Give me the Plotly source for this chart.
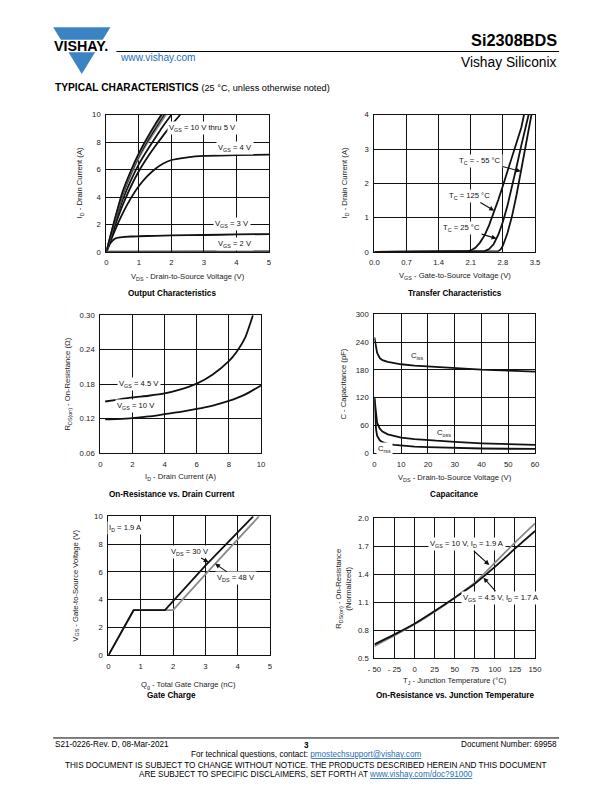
import plotly.graph_objects as go

W, H = 612, 792

# ---------------- data ----------------
# Output characteristics (VDS in V, ID in A)
out_x_10 = [0, 0.25, 0.5, 0.75, 1.0, 1.25, 1.5, 1.69]
out_y_10 = [0, 2.3, 4.4, 5.9, 7.2, 8.3, 9.3, 10.0]
out_x_9 = [0, 0.25, 0.5, 0.75, 1.0, 1.25, 1.5, 1.73]
out_y_9 = [0, 2.25, 4.3, 5.8, 7.1, 8.2, 9.15, 10.0]
out_x_8 = [0, 0.25, 0.5, 0.75, 1.0, 1.25, 1.5, 1.77]
out_y_8 = [0, 2.2, 4.2, 5.7, 7.0, 8.05, 9.0, 10.0]
out_x_7 = [0, 0.25, 0.5, 0.75, 1.0, 1.25, 1.5, 1.83]
out_y_7 = [0, 2.15, 4.1, 5.6, 6.85, 7.9, 8.8, 10.0]
out_x_6 = [0, 0.25, 0.5, 0.75, 1.0, 1.25, 1.5, 1.75, 2.0]
out_y_6 = [0, 2.0, 3.8, 5.2, 6.4, 7.4, 8.3, 9.2, 10.0]
out_x_5 = [0, 0.25, 0.5, 0.75, 1.0, 1.25, 1.5, 1.75, 2.0, 2.27]
out_y_5 = [0, 1.8, 3.4, 4.75, 5.9, 6.85, 7.7, 8.5, 9.25, 10.0]
out_x_4 = [0, 0.25, 0.5, 0.75, 1.0, 1.25, 1.5, 1.75, 2.0, 2.5, 3.0, 4.0, 5.0]
out_y_4 = [0, 1.5, 2.8, 3.9, 4.8, 5.5, 6.05, 6.45, 6.7, 6.9, 7.0, 7.05, 7.1]
out_x_3 = [0, 0.1, 0.2, 0.3, 0.5, 0.75, 1.0, 1.5, 2.0, 3.0, 4.0, 5.0]
out_y_3 = [0, 0.55, 0.85, 1.0, 1.08, 1.12, 1.14, 1.17, 1.2, 1.23, 1.27, 1.3]
out_x_2 = [0, 5.0]
out_y_2 = [0.02, 0.03]

# Transfer characteristics (VGS in V, ID in A)
tr_x_125 = [0, 1.9, 2.0, 2.1, 2.2, 2.3, 2.4, 2.5, 2.6, 2.7, 2.8, 2.9, 3.0, 3.1, 3.2, 3.26]
tr_y_125 = [0, 0, 0.01, 0.04, 0.12, 0.27, 0.48, 0.78, 1.13, 1.52, 1.93, 2.35, 2.77, 3.2, 3.62, 4.0]
tr_x_25 = [0, 2.3, 2.4, 2.5, 2.6, 2.7, 2.8, 2.9, 3.0, 3.1, 3.2, 3.3, 3.36]
tr_y_25 = [0, 0, 0.02, 0.08, 0.23, 0.5, 0.88, 1.35, 1.9, 2.5, 3.1, 3.7, 4.0]
tr_x_m55 = [0, 2.65, 2.7, 2.75, 2.8, 2.9, 3.0, 3.1, 3.2, 3.3, 3.4, 3.45]
tr_y_m55 = [0, 0, 0.02, 0.07, 0.18, 0.55, 1.05, 1.68, 2.4, 3.15, 3.85, 4.2]

# On-resistance vs drain current (ID in A, RDS(on) in ohm)
ron_x_45 = [0.3, 1, 2, 3, 4, 5, 6, 7, 8, 8.5, 9, 9.5]
ron_y_45 = [0.150, 0.153, 0.157, 0.160, 0.164, 0.171, 0.181, 0.197, 0.220, 0.237, 0.260, 0.300]
ron_x_10 = [0.3, 1, 2, 3, 4, 5, 6, 7, 8, 9, 10]
ron_y_10 = [0.119, 0.1195, 0.121, 0.124, 0.128, 0.132, 0.137, 0.143, 0.151, 0.162, 0.178]

# Capacitance (VDS in V, C in pF)
cap_v = [0, 0.3, 0.6, 1, 2, 3, 5, 7.5, 10, 15, 20, 30, 40, 50, 60]
cap_ciss = [250, 240, 228, 217, 205, 201, 197, 194, 192, 189, 187, 183, 180.5, 178.5, 176]
cap_coss = [120, 100, 82, 66, 53, 47, 41, 37, 34, 30.5, 28, 24.5, 21.5, 19.5, 18]
cap_crss = [118, 80, 52, 38, 28, 24, 20.5, 18, 16.3, 14.5, 13.2, 11.5, 10.3, 9.8, 9.4]

# Gate charge (Qg in nC, VGS in V)
qg_x_30 = [0, 0.78, 1.75, 1.85, 3.0, 4.48]
qg_y_30 = [0, 3.25, 3.25, 3.5, 6.45, 10.0]
qg_x_48 = [0, 0.78, 2.0, 2.1, 3.05, 4.66]
qg_y_48 = [0, 3.25, 3.25, 3.5, 5.95, 10.0]

# On-resistance vs junction temperature (TJ in degC, normalized)
tj_x = [-50, -25, 0, 25, 50, 75, 100, 125, 150]
tj_r_45 = [0.65, 0.757, 0.871, 1.007, 1.15, 1.30, 1.48, 1.675, 1.864]
tj_r_10 = [0.632, 0.745, 0.865, 1.0, 1.15, 1.31, 1.525, 1.74, 1.946]

# ticks
out_xticks = [0, 1, 2, 3, 4, 5]
out_yticks = [0, 2, 4, 6, 8, 10]
tr_xticks = [0, 0.7, 1.4, 2.1, 2.8, 3.5]
tr_xlabels = ["0.0", "0.7", "1.4", "2.1", "2.8", "3.5"]
tr_yticks = [0, 1, 2, 3, 4]
ron_xticks = [0, 2, 4, 6, 8, 10]
ron_yticks = [0.06, 0.12, 0.18, 0.24, 0.30]
ron_ylabels = ["0.06", "0.12", "0.18", "0.24", "0.30"]
cap_xticks = [0, 10, 20, 30, 40, 50, 60]
cap_yticks = [0, 60, 120, 180, 240, 300]
qg_xticks = [0, 1, 2, 3, 4, 5]
qg_yticks = [0, 2, 4, 6, 8, 10]
tj_xticks = [-50, -25, 0, 25, 50, 75, 100, 125, 150]
tj_xlabels = ["- 50", "- 25", "0", "25", "50", "75", "100", "125", "150"]
tj_yticks = [0.5, 0.8, 1.1, 1.4, 1.7, 2.0]
tj_ylabels = ["0.5", "0.8", "1.1", "1.4", "1.7", "2.0"]

# ---------------- helpers ----------------
# page-pixel -> paper fraction (with a small calibration for the capture)
SX, BX = 0.975, 8.0
SY, BY = 0.988, 5.0
FS = 1.0 / 0.98


def fx(p):
    return ((p - BX) / SX) / W


def fy(p):
    return 1 - ((p - BY) / SY) / H


NARROW = "Liberation Sans Narrow, Arial Narrow, Liberation Sans, Arial, sans-serif"
SANS = "Liberation Sans, Arial, Helvetica, sans-serif"
BLACK = "#111111"
GRAY = "#8a8a8a"
BLUE = "#3b84c4"
LINK = "#1f6fb8"

fig = go.Figure()

panels = [
    # (xpx0, xpx1, ypx0(top), ypx1(bottom), xrange, xticks, xlabels, yrange, yticks, ylabels)
    (107, 269, 115.7, 252.7, [0, 5], out_xticks, None, [0, 10], out_yticks, None),
    (374, 534, 115.7, 252.7, [0, 3.5], tr_xticks, tr_xlabels, [0, 4], tr_yticks, None),
    (101, 261, 316, 454, [0, 10], ron_xticks, None, [0.06, 0.30], ron_yticks, ron_ylabels),
    (374, 534, 315, 454, [0, 60], cap_xticks, None, [0, 300], cap_yticks, None),
    (109, 270, 517, 656, [0, 5], qg_xticks, None, [0, 10], qg_yticks, None),
    (374, 534, 519, 659, [-50, 150], tj_xticks, tj_xlabels, [0.5, 2.0], tj_yticks, tj_ylabels),
]

layout_axes = {}
for i, (x0, x1, y0, y1, xr, xt, xl, yr, yt, yl) in enumerate(panels, start=1):
    sfx = "" if i == 1 else str(i)
    common = dict(showline=True, mirror=True, linecolor=BLACK, linewidth=1.2,
                  showgrid=True, gridcolor=BLACK, gridwidth=1, zeroline=False,
                  ticks="", tickfont=dict(family=NARROW, size=7.6 * FS, color="#222"),
                  fixedrange=True, ticklabelstandoff=3)
    layout_axes["xaxis" + sfx] = dict(common, domain=[fx(x0), fx(x1)], range=xr,
                                      tickvals=xt, ticktext=xl if xl else [str(v) for v in xt],
                                      anchor="y" + sfx)
    layout_axes["yaxis" + sfx] = dict(common, domain=[fy(y1), fy(y0)], range=yr,
                                      tickvals=yt, ticktext=yl if yl else [str(v) for v in yt],
                                      anchor="x" + sfx)


def line(x, y, ax, color=BLACK, width=1.8, shape="spline"):
    sfx = "" if ax == 1 else str(ax)
    fig.add_trace(go.Scatter(x=x, y=y, mode="lines", xaxis="x" + sfx, yaxis="y" + sfx,
                             line=dict(color=color, width=width, shape=shape,
                                       smoothing=0.6 if shape == "spline" else None),
                             hoverinfo="skip", showlegend=False, cliponaxis=True))

# panel 1
line(out_x_2, out_y_2, 1)
line(out_x_3, out_y_3, 1)
line(out_x_4, out_y_4, 1)
line(out_x_5, out_y_5, 1)
line(out_x_6, out_y_6, 1)
line(out_x_7, out_y_7, 1, GRAY)
line(out_x_8, out_y_8, 1)
line(out_x_9, out_y_9, 1, GRAY)
line(out_x_10, out_y_10, 1)
# panel 2
line(tr_x_125, tr_y_125, 2, shape="linear")
line(tr_x_25, tr_y_25, 2, shape="linear")
line(tr_x_m55, tr_y_m55, 2, shape="linear")
# panel 3
line(ron_x_45, ron_y_45, 3)
line(ron_x_10, ron_y_10, 3)
# panel 4
line(cap_v, cap_ciss, 4, shape="linear")
line(cap_v, cap_coss, 4, shape="linear")
line(cap_v, cap_crss, 4, shape="linear")
# panel 5
line(qg_x_48, qg_y_48, 5, GRAY, shape="linear")
line(qg_x_30, qg_y_30, 5, shape="linear")
# panel 6
line(tj_x, tj_r_10, 6, GRAY)
line(tj_x, tj_r_45, 6)

ann = []


def data_label(ax, x, y, text, bg=True, tip=None, size=7.5):
    sfx = "" if ax == 1 else str(ax)
    d = dict(xref="x" + sfx, yref="y" + sfx, text=text,
             font=dict(family=NARROW, size=size * FS, color="#111"),
             bgcolor="white" if bg else None, borderpad=1)
    if tip is None:
        d.update(x=x, y=y, showarrow=False)
    else:
        d.update(x=tip[0], y=tip[1], ax=x, ay=y, axref="x" + sfx, ayref="y" + sfx,
                 showarrow=True, arrowhead=2, arrowsize=0.9, arrowwidth=1.1,
                 arrowcolor="#111", standoff=0, startstandoff=0)
    ann.append(d)


data_label(1, 2.94, 9.07, "V<sub>GS</sub> = 10 V thru 5 V")
data_label(1, 3.95, 7.6, "V<sub>GS</sub> = 4 V")
data_label(1, 3.85, 2.0, "V<sub>GS</sub> = 3 V")
data_label(1, 3.95, 0.56, "V<sub>GS</sub> = 2 V")

data_label(2, 2.3, 2.66, "T<sub>C</sub> = - 55 °C", tip=(3.19, 2.35))
data_label(2, 2.07, 1.63, "T<sub>C</sub> = 125 °C", tip=(2.61, 1.2))
data_label(2, 1.9, 0.69, "T<sub>C</sub> = 25 °C", tip=(2.66, 0.39))

data_label(3, 2.4, 0.18, "V<sub>GS</sub> = 4.5 V")
data_label(3, 2.25, 0.142, "V<sub>GS</sub> = 10 V")

data_label(4, 15.8, 210, "C<sub>iss</sub>")
data_label(4, 26, 43, "C<sub>oss</sub>")
data_label(4, 3.6, 10, "C<sub>rss</sub>")

data_label(5, 0.54, 9.15, "I<sub>D</sub> = 1.9 A")
data_label(5, 2.51, 7.47, "V<sub>DS</sub> = 30 V", tip=(3.1, 6.7))
data_label(5, 3.96, 5.54, "V<sub>DS</sub> = 48 V", tip=(3.3, 6.6))

data_label(6, 65, 1.72, "V<sub>GS</sub> = 10 V, I<sub>D</sub> = 1.9 A", tip=(93, 1.5))
data_label(6, 108, 1.15, "V<sub>GS</sub> = 4.5 V, I<sub>D</sub> = 1.7 A", tip=(85.8, 1.364))


def ptext(x, y, text, size=7.5, family=NARROW, color="#222", xanchor="center",
          yanchor="middle", angle=0, bold=False):
    if bold:
        text = "<b>" + text + "</b>"
    ann.append(dict(xref="paper", yref="paper", x=fx(x), y=fy(y), text=text,
                    showarrow=False, xanchor=xanchor, yanchor=yanchor, textangle=angle,
                    font=dict(family=family, size=size * FS, color=color)))

# axis titles
ptext(188, 277.5, "V<sub>DS</sub> - Drain-to-Source Voltage (V)")
ptext(81, 184, "I<sub>D</sub> - Drain Current (A)", angle=-90)
ptext(454, 277, "V<sub>GS</sub> - Gate-to-Source Voltage (V)")
ptext(345, 184, "I<sub>D</sub> - Drain Current (A)", angle=-90)
ptext(181, 478, "I<sub>D</sub> - Drain Current (A)")
ptext(69, 385, "R<sub>DS(on)</sub> - On-Resistance (Ω)", angle=-90)
ptext(454, 479, "V<sub>DS</sub> - Drain-to-Source Voltage (V)")
ptext(343, 385, "C - Capacitance (pF)", angle=-90)
ptext(189, 686, "Q<sub>g</sub> - Total Gate Charge (nC)")
ptext(77, 586, "V<sub>GS</sub> - Gate-to-Source Voltage (V)", angle=-90)
ptext(454, 682, "T<sub>J</sub> - Junction Temperature (°C)")
ptext(343, 589, "R<sub>DS(on)</sub> - On-Resistance<br>(Normalized)", angle=-90)

# chart titles
TS = 8
ptext(172, 294, "Output Characteristics", size=TS, family=SANS, color="#000", bold=True)
ptext(454, 294, "Transfer Characteristics", size=TS, family=SANS, color="#000", bold=True)
ptext(172, 495, "On-Resistance vs. Drain Current", size=TS, family=SANS, color="#000", bold=True)
ptext(454, 495, "Capacitance", size=TS, family=SANS, color="#000", bold=True)
ptext(172, 696, "Gate Charge", size=TS, family=SANS, color="#000", bold=True)
ptext(454, 696, "On-Resistance vs. Junction Temperature", size=TS, family=SANS, color="#000", bold=True)

# header
ptext(82, 47, "VISHAY.", size=14, family=SANS, color="#000", bold=True)
ptext(119, 58.5, "www.vishay.com", size=10, family=SANS, color=LINK, xanchor="left")
ptext(558, 41, "Si2308BDS", size=16, family=SANS, color="#000", xanchor="right", bold=True)
ptext(558, 63, "Vishay Siliconix", size=13.5, family=SANS, color="#000", xanchor="right")
ann.append(dict(xref="paper", yref="paper", x=fx(54), y=fy(88), xanchor="left", yanchor="middle",
                showarrow=False,
                text="<b>TYPICAL CHARACTERISTICS</b> <span style='font-size:9.2px'>(25 °C, unless otherwise noted)</span>",
                font=dict(family=SANS, size=10.2, color="#000")))

# footer
ptext(54, 745, "S21-0226-Rev. D, 08-Mar-2021", size=8, family=SANS, color="#000", xanchor="left")
ptext(306, 746, "3", size=8, family=SANS, color="#000", bold=True)
ptext(558, 745, "Document Number: 69958", size=8, family=SANS, color="#000", xanchor="right")
ptext(306, 755.5,
      "For technical questions, contact: <span style='color:#1f6fb8'><u>pmostechsupport@vishay.com</u></span>",
      size=8, family=SANS, color="#000")
ptext(306, 766, "THIS DOCUMENT IS SUBJECT TO CHANGE WITHOUT NOTICE. THE PRODUCTS DESCRIBED HEREIN AND THIS DOCUMENT",
      size=8, family=SANS, color="#000")
ptext(306, 775.5,
      "ARE SUBJECT TO SPECIFIC DISCLAIMERS, SET FORTH AT <span style='color:#1f6fb8'><u>www.vishay.com/doc?91000</u></span>",
      size=8, family=SANS, color="#000")

# shapes: logo, rules
shapes = []
tri = "M {} {} L {} {} L {} {} Z".format(fx(54), fy(28.3), fx(111), fy(28.3), fx(82.5), fy(75))
shapes.append(dict(type="path", xref="paper", yref="paper", path=tri, fillcolor=BLUE,
                   line=dict(width=0), layer="below"))
shapes.append(dict(type="rect", xref="paper", yref="paper", x0=fx(50), x1=fx(115),
                   y0=fy(53.3), y1=fy(40.7), fillcolor="white", line=dict(width=0), layer="below"))
shapes.append(dict(type="line", xref="paper", yref="paper", x0=fx(117), x1=fx(558),
                   y0=fy(52.5), y1=fy(52.5), line=dict(color="#000", width=1)))
shapes.append(dict(type="line", xref="paper", yref="paper", x0=fx(54), x1=fx(558),
                   y0=fy(738.5), y1=fy(738.5), line=dict(color="#000", width=1)))

fig.update_layout(
    width=W, height=H, autosize=False,
    margin=dict(l=0, r=0, t=0, b=0),
    paper_bgcolor="white", plot_bgcolor="white",
    showlegend=False,
    annotations=ann, shapes=shapes,
    **layout_axes,
)

fig.write_html(
    "out.html",
    config={"displayModeBar": False},
    post_script="document.body.style.margin='0';document.body.style.padding='0';"
                "document.documentElement.style.overflow='hidden';",
)
